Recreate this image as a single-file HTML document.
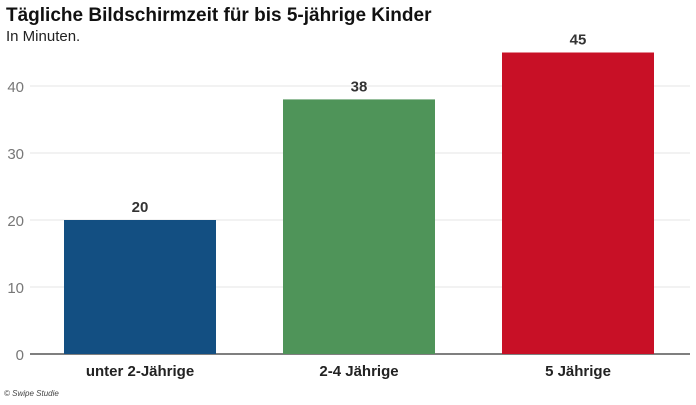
<!DOCTYPE html>
<html><head><meta charset="utf-8"><style>
body{margin:0;width:696px;height:400px;background:#fff;overflow:hidden;font-family:"Liberation Sans",sans-serif}
</style></head><body>
<svg width="696" height="400" xmlns="http://www.w3.org/2000/svg">
<text x="6" y="21" font-size="19" font-weight="bold" fill="#111">Tägliche Bildschirmzeit für bis 5-jährige Kinder</text>
<text x="6" y="41" font-size="15" fill="#222">In Minuten.</text>
<g id="grid"></g><g id="bars"></g>
<text x="4" y="396" font-size="8" font-style="italic" fill="#444">© Swipe Studie</text>
</svg>
<script>
const categories=["unter 2-Jährige","2-4 Jährige","5 Jährige"];
const values=[20,38,45];
const colors=["#134f82","#4f9459","#c81026"];
const ticks=[0,10,20,30,40];
const NS="http://www.w3.org/2000/svg";
const y0=354,pxPer=6.7;
const y=v=>y0-v*pxPer;
const x=i=>64+i*219;
const bw=152;
const grid=document.getElementById('grid'),bars=document.getElementById('bars');
function mk(t,a,p){const e=document.createElementNS(NS,t);for(const k in a)e.setAttribute(k,a[k]);p.appendChild(e);return e;}
ticks.forEach(t=>{
 const l=mk('line',{x1:30,x2:690,y1:y(t),y2:y(t),stroke:t===0?'#555':'#e6e6e6','stroke-width':t===0?1.5:1},grid);
 
 
 const tx=mk('text',{x:24,y:y(t)+6,'text-anchor':'end','font-size':15,fill:'#777'},grid);
 tx.textContent=t;
 
 
});
values.forEach((v,i)=>{
 const r=mk('rect',{x:x(i),y:y(v),width:bw,height:y0-y(v),fill:colors[i]},bars);
 
 
 const vl=mk('text',{x:x(i)+bw/2,y:y(v)-8,'text-anchor':'middle','font-size':15,'font-weight':'bold',fill:'#333'},bars);
 vl.textContent=v;
 
 
 const cl=mk('text',{x:x(i)+bw/2,y:376,'text-anchor':'middle','font-size':15,'font-weight':'bold',fill:'#222'},bars);
 cl.textContent=categories[i];
 
 
});
</script>
</body></html>
